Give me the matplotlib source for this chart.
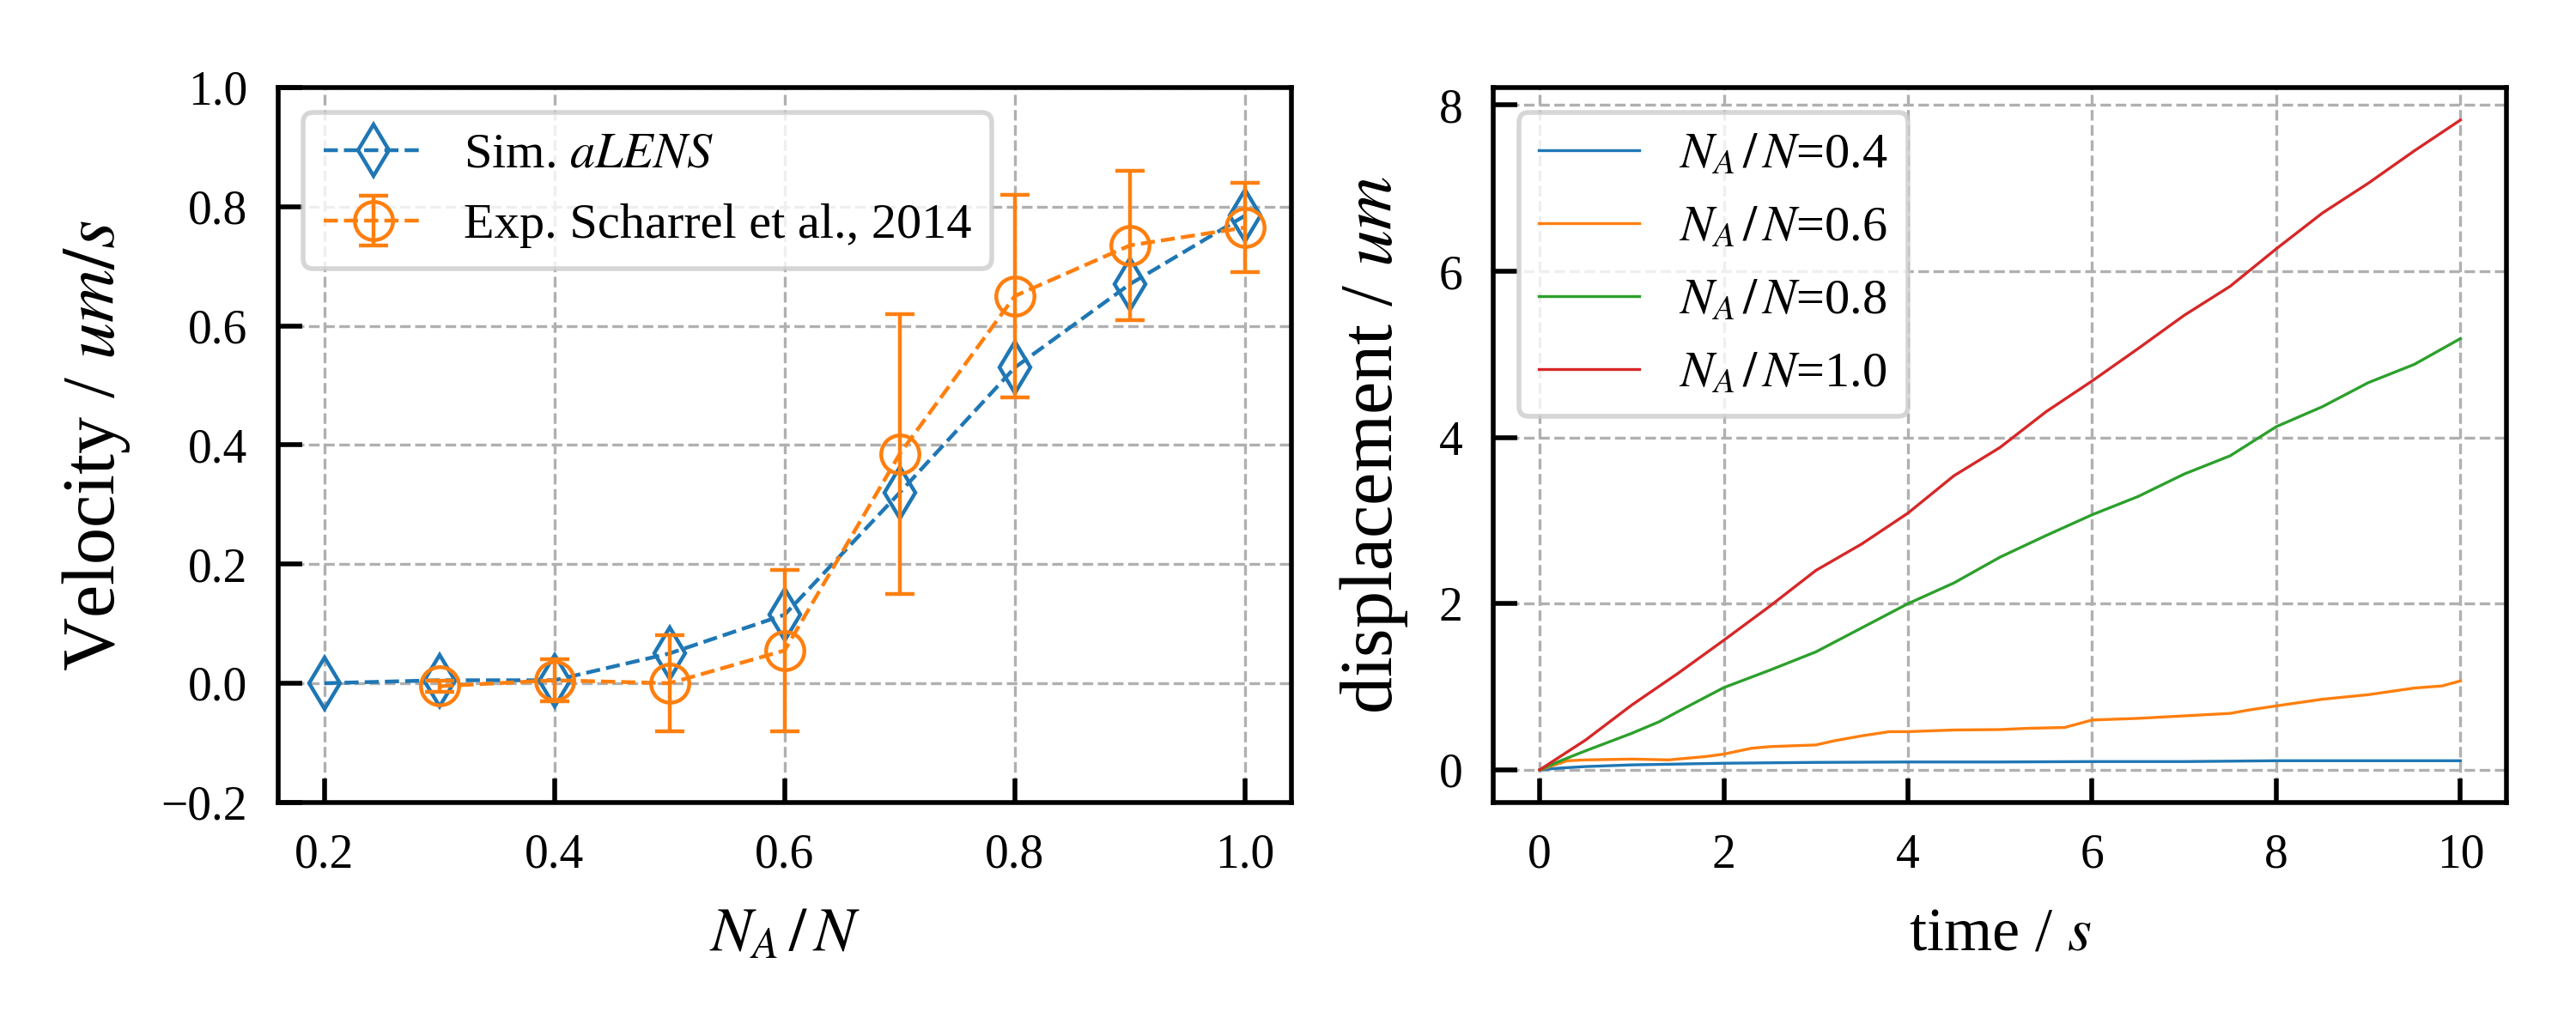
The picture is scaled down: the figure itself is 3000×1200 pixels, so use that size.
import matplotlib
matplotlib.use("Agg")
import matplotlib.pyplot as plt

plt.rcParams['font.family'] = ['Liberation Serif', 'DejaVu Serif']
plt.rcParams['mathtext.fontset'] = 'stix'
plt.rcParams['font.size'] = 10
plt.rcParams['axes.linewidth'] = 1.0

# left panel: velocity vs N_A/N
sim_x = [0.2, 0.3, 0.4, 0.5, 0.6, 0.7, 0.8, 0.9, 1.0]
sim_v = [0.0, 0.005, 0.005, 0.05, 0.115, 0.32, 0.53, 0.67, 0.785]

exp_x = [0.3, 0.4, 0.5, 0.6, 0.7, 0.8, 0.9, 1.0]
exp_v = [-0.005, 0.005, 0.0, 0.055, 0.385, 0.65, 0.735, 0.765]
exp_err = [0.01, 0.035, 0.08, 0.135, 0.235, 0.17, 0.125, 0.075]

# right panel: displacement vs time
t_red = [0, 0.25, 0.5, 1.0, 1.5, 2.0, 2.5, 3.0, 3.5, 4.0, 4.5, 5.0, 5.5, 6.0,
         6.5, 7.0, 7.5, 8.0, 8.5, 9.0, 9.5, 10.0]
d_red = [0, 0.18, 0.36, 0.78, 1.16, 1.56, 1.97, 2.40, 2.72, 3.09, 3.54, 3.88,
         4.31, 4.68, 5.07, 5.47, 5.82, 6.27, 6.70, 7.06, 7.45, 7.82]

t_green = [0, 0.25, 0.5, 1.0, 1.3, 1.5, 2.0, 2.5, 3.0, 3.5, 4.0, 4.5, 5.0, 5.5,
           6.0, 6.5, 7.0, 7.5, 8.0, 8.5, 9.0, 9.5, 10.0]
d_green = [0, 0.12, 0.23, 0.44, 0.58, 0.70, 0.99, 1.20, 1.42, 1.71, 2.0, 2.25,
           2.56, 2.82, 3.07, 3.29, 3.56, 3.78, 4.13, 4.37, 4.66, 4.88, 5.19]

t_orange = [0, 0.3, 0.5, 1.0, 1.4, 1.8, 2.0, 2.3, 2.5, 3.0, 3.2, 3.5, 3.8, 4.0,
            4.5, 5.0, 5.3, 5.7, 6.0, 6.5, 7.0, 7.5, 7.7, 8.0, 8.5, 9.0, 9.5,
            9.8, 10.0]
d_orange = [0, 0.11, 0.12, 0.13, 0.12, 0.16, 0.19, 0.26, 0.28, 0.30, 0.35, 0.41,
            0.46, 0.46, 0.48, 0.485, 0.50, 0.51, 0.60, 0.62, 0.65, 0.68, 0.72,
            0.77, 0.85, 0.905, 0.985, 1.01, 1.07]

t_blue = [0, 0.2, 0.5, 1.0, 1.5, 2.0, 3.0, 4.0, 5.0, 6.0, 7.0, 8.0, 9.0, 10.0]
d_blue = [0, 0.02, 0.04, 0.06, 0.07, 0.08, 0.09, 0.095, 0.095, 0.10, 0.10,
          0.11, 0.11, 0.11]

ratio_lbl = r'$N_A\,/\,N$'

fig, (ax1, ax2) = plt.subplots(1, 2, figsize=(7.5, 3), dpi=400)
fig.subplots_adjust(left=0.108, right=0.973, bottom=0.221, top=0.915, wspace=0.2)

ax1.plot(sim_x, sim_v, '--', marker='d', mfc='none', ms=7.6, lw=0.8, mew=0.8,
         color='C0', label='Sim. $aLENS$')
ax1.errorbar(exp_x, exp_v, yerr=exp_err, fmt='--', marker='o', mfc='none', ms=8,
             lw=0.8, mew=0.8, elinewidth=0.8, capsize=3, capthick=0.8,
             color='C1', label='Exp. Scharrel et al., 2014')
ax1.set_ylim(-0.2, 1.0)
ax1.set_xlabel(ratio_lbl, fontsize=13, labelpad=6)
ax1.set_ylabel('Velocity / $um/s$', fontsize=15.5, labelpad=6)
ax1.legend(loc='upper left', fontsize=10.5)

ax2.plot(t_blue, d_blue, lw=0.6, label=ratio_lbl + '=0.4')
ax2.plot(t_orange, d_orange, lw=0.6, label=ratio_lbl + '=0.6')
ax2.plot(t_green, d_green, lw=0.6, label=ratio_lbl + '=0.8')
ax2.plot(t_red, d_red, lw=0.6, label=ratio_lbl + '=1.0')
ax2.set_xlabel('time / $s$', fontsize=13, labelpad=6)
ax2.set_ylabel('displacement / $um$', fontsize=15.5, labelpad=6)
ax2.legend(loc='upper left', fontsize=10.5, labelspacing=0.55)

for ax in (ax1, ax2):
    ax.grid(True, ls='--', color='#b0b0b0', lw=0.6)
    ax.tick_params(direction='in', length=5, width=1.0, labelsize=10, pad=6.5)

fig.savefig('out.png', dpi=400)
